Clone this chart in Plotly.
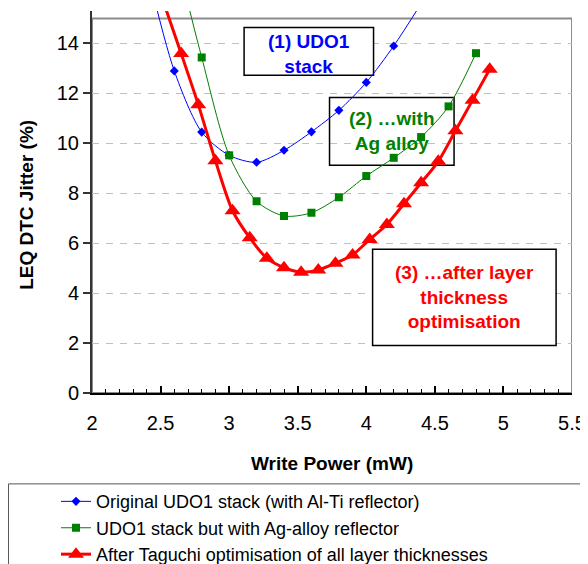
import plotly.graph_objects as go

# ---- data ----
blue_name = "Original UDO1 stack (with Al-Ti reflector)"
blue_x = [2.4, 2.6, 2.8, 3.0, 3.2, 3.4, 3.6, 3.8, 4.0, 4.2, 4.4]
blue_y = [17.0, 12.9, 10.45, 9.52, 9.24, 9.72, 10.46, 11.32, 12.44, 13.9, 15.6]

green_name = "UDO1 stack but with Ag-alloy reflector"
green_x = [2.6, 2.8, 3.0, 3.2, 3.4, 3.6, 3.8, 4.0, 4.2, 4.4, 4.6, 4.8]
green_y = [17.8, 13.44, 9.52, 7.68, 7.09, 7.22, 7.84, 8.69, 9.42, 10.25, 11.48, 13.61]

red_name = "After Taguchi optimisation of all layer thicknesses"
red_x = [2.525, 2.65, 2.775, 2.9, 3.025, 3.15, 3.275, 3.4, 3.525, 3.65, 3.775,
         3.9, 4.025, 4.15, 4.275, 4.4, 4.525, 4.65, 4.775, 4.9]
red_y = [15.6, 13.6, 11.55, 9.3, 7.3, 6.22, 5.4, 5.02, 4.84, 4.93, 5.2,
         5.53, 6.15, 6.75, 7.58, 8.42, 9.28, 10.5, 11.73, 12.97]

x_ticks = [2, 2.5, 3, 3.5, 4, 4.5, 5, 5.5]
y_ticks = [0, 2, 4, 6, 8, 10, 12, 14]

FONT = "Liberation Sans"

fig = go.Figure()
fig.add_trace(go.Scatter(x=blue_x, y=blue_y, name=blue_name, mode="lines+markers",
                         line=dict(color="#0000FF", width=1, shape="spline", smoothing=0.8),
                         marker=dict(symbol="diamond", size=7, color="#0000FF")))
fig.add_trace(go.Scatter(x=green_x, y=green_y, name=green_name, mode="lines+markers",
                         line=dict(color="#008000", width=1, shape="spline", smoothing=0.8),
                         marker=dict(symbol="square", size=8, color="#008000")))
fig.add_trace(go.Scatter(x=red_x, y=red_y, name=red_name, mode="lines+markers",
                         line=dict(color="#FF0000", width=3, shape="spline", smoothing=0.8),
                         marker=dict(symbol="triangle-up", size=14, color="#FF0000")))

# plot frame (top/right gray)
fig.add_shape(type="rect", xref="x", yref="y", x0=2, x1=5.5, y0=0, y1=15,
              line=dict(color="#8c8c8c", width=2), fillcolor="rgba(0,0,0,0)", layer="below")

# annotation boxes
boxes = [
    (3.109, 4.053, 12.73, 14.64),
    (3.732, 4.640, 9.12, 11.84),
    (4.046, 5.384, 1.904, 5.76),
]
for i, (x0, x1, y0, y1) in enumerate(boxes):
    fig.add_shape(type="rect", xref="x", yref="y", x0=x0, x1=x1, y0=y0, y1=y1,
                  line=dict(color="black", width=1.5),
                  fillcolor="white" if i != 1 else "rgba(0,0,0,0)", layer="between")

fig.add_annotation(x=3.581, y=13.56, xref="x", yref="y", showarrow=False,
                   text="(1) UDO1<br>stack", font=dict(family=FONT, size=19, color="#0000FF", weight="bold"))
fig.add_annotation(x=4.186, y=10.5, xref="x", yref="y", showarrow=False,
                   text="(2) …with<br>Ag alloy", font=dict(family=FONT, size=19, color="#008000", weight="bold"))
fig.add_annotation(x=4.715, y=3.83, xref="x", yref="y", showarrow=False,
                   text="(3) …after layer<br>thickness<br>optimisation",
                   font=dict(family=FONT, size=19, color="#FF0000", weight="bold"))

# axis titles
fig.add_annotation(x=0.5, y=-0.184, xref="paper", yref="paper", showarrow=False,
                   xanchor="center", yanchor="middle",
                   text="Write Power (mW)", font=dict(family=FONT, size=19, color="black", weight="bold"))
fig.add_annotation(x=-0.138, y=0.492, xref="paper", yref="paper", showarrow=False,
                   xanchor="center", yanchor="middle", textangle=-90,
                   text="LEQ DTC Jitter (%)", font=dict(family=FONT, size=19, color="black", weight="bold"))

# legend frame
fig.add_shape(type="rect", xref="paper", yref="paper", x0=-0.174, x1=1.1, y0=-0.2379, y1=-0.5,
              line=dict(color="#555555", width=1), fillcolor="rgba(0,0,0,0)")

fig.update_layout(
    width=580, height=556,
    margin=dict(l=84, r=16, t=3, b=171, autoexpand=False),
    paper_bgcolor="white", plot_bgcolor="white",
    font=dict(family=FONT, size=20, color="black"),
    showlegend=True,
    legend=dict(x=-0.075, y=-0.236, xanchor="left", yanchor="top",
                bgcolor="rgba(0,0,0,0)", borderwidth=0,
                font=dict(family=FONT, size=18, color="black")),
    xaxis=dict(range=[2, 5.5], tickvals=x_ticks, ticktext=[str(v) for v in x_ticks],
               showgrid=False, zeroline=False,
               showline=True, linecolor="black", linewidth=2,
               ticks="inside", ticklen=7, tickwidth=1.5, tickcolor="black",
               ticklabelstandoff=11,
               minor=dict(dtick=0.1, ticks="inside", ticklen=4, tickwidth=1, tickcolor="black", showgrid=False)),
    yaxis=dict(range=[0, 15.3], tickvals=y_ticks, ticktext=[str(v) for v in y_ticks],
               showgrid=True, gridcolor="#c0c0c0", gridwidth=1, griddash="7px,7px",
               zeroline=False,
               showline=True, linecolor="#333333", linewidth=2,
               ticks="outside", ticklen=7, tickwidth=1.5, tickcolor="#333333"),
)

fig.write_html("out.html")
